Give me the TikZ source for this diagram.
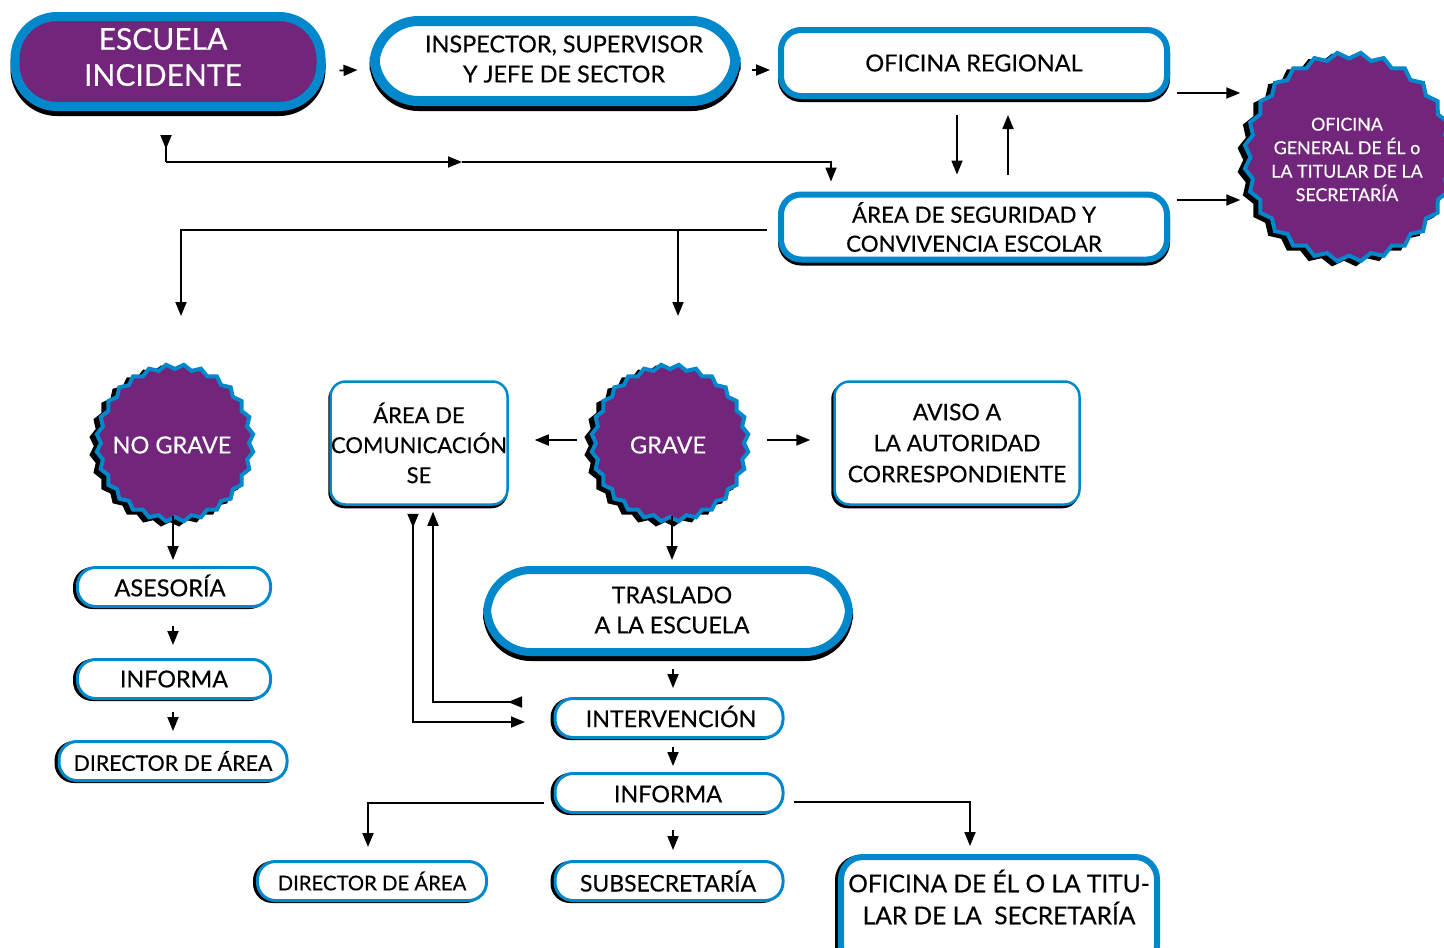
\documentclass[tikz,border=0pt]{standalone}
\usepackage{fontspec}
\usepackage{xcolor}
\usepackage{tikz}
\usetikzlibrary{arrows.meta,shapes.geometric,shadows}
\setmainfont{Lato}[FakeBold=0.4]
\definecolor{morado}{HTML}{72267B}
\definecolor{azul}{HTML}{0088CC}
\newcommand{\fs}[2]{\fontsize{#1}{#2}\selectfont}
\tikzset{
    caja/.style n args={6}{draw=azul, fill=white, line width=#1, rounded corners=#2, align=center,
        minimum width=#3, minimum height=#4, inner sep=0pt,
        general shadow={draw=black, fill=black, line width=#1, shadow xshift=#5, shadow yshift=#6}},
    sello/.style={star, star points=28, star point ratio=.94, draw=azul, fill=morado, text=white,
        line width=4pt, align=center, minimum size=#1, inner sep=0pt,
        general shadow={draw=black, fill=black, line width=4pt, shadow xshift=-5pt, shadow yshift=-3pt}},
    rotulo/.style={align=center, inner sep=0pt},
    flecha/.style={-{Triangle[length=14pt,width=11pt]}, line width=1.8pt, black},
    doble/.style={{Triangle[length=14pt,width=11pt,reversed]}-{Triangle[length=14pt,width=11pt]}, line width=1.8pt, black},
    linea/.style={{Triangle[length=14pt,width=11pt,reversed]}-, line width=1.8pt, black}
}
\begin{document}
\begin{tikzpicture}[x=1pt,y=-1pt]
        \useasboundingbox (0,0) rectangle (1444,948);
        \clip (0,0) rectangle (1444,948);
        % fila superior
        \node[caja={9pt}{42pt}{306pt}{90pt}{0pt}{-5pt}, fill=morado] (escuela) at (168,61.5) {};
        \node[rotulo, text=white, font=\fs{30}{36}] (escuelatxt) at (163,57) {ESCUELA\\INCIDENTE};
        \node[caja={10pt}{44pt}{361pt}{80pt}{0pt}{-5pt}] (inspector) at (555,61) {};
        \node[rotulo, font=\fs{23.4}{30}] (inspectortxt) at (564,59) {INSPECTOR, SUPERVISOR\\Y JEFE DE SECTOR};
        \node[caja={6pt}{20pt}{386pt}{66pt}{0pt}{-3pt}, font=\fs{23.5}{30}] (regional) at (974,63) {OFICINA REGIONAL};
        \node[caja={6pt}{20pt}{386pt}{65pt}{0pt}{-3pt}, font=\fs{22.3}{29}] (seguridad) at (974,227) {ÁREA DE SEGURIDAD Y\\CONVIVENCIA ESCOLAR};
        \node[sello={197pt}] (general) at (1349,157) {};
        \node[rotulo, text=white, font=\fs{17.8}{23.5}] (generaltxt) at (1347,159.5) {OFICINA\\GENERAL DE ÉL o\\LA TITULAR DE LA\\SECRETARÍA};
        % casos
        \node[sello={148pt}] (nograve) at (175,443) {};
        \node[rotulo, text=white, font=\fs{23.5}{30}] (nogravetxt) at (172,445) {NO GRAVE};
        \node[sello={148pt}] (grave) at (670,443) {};
        \node[rotulo, text=white, font=\fs{23.5}{30}] (gravetxt) at (668,445) {GRAVE};
        \node[caja={2.5pt}{15pt}{177pt}{123pt}{-1pt}{-2.5pt}, font=\fs{22}{30}] (comunicacion) at (419,443) {ÁREA DE\\COMUNICACIÓN\\SE};
        \node[caja={2.5pt}{15pt}{245pt}{123pt}{-2pt}{-2.5pt}, font=\fs{22.9}{31}] (aviso) at (957,443) {AVISO A\\LA AUTORIDAD\\CORRESPONDIENTE};
        \node[caja={8pt}{44pt}{362pt}{82pt}{0pt}{-5pt}] (traslado) at (668,611) {};
        \node[rotulo, font=\fs{23.2}{30}] (trasladotxt) at (672,610) {TRASLADO\\A LA ESCUELA};
        % columna izquierda
        \node[caja={3pt}{18pt}{193pt}{39pt}{-3pt}{-1pt}] (asesoria) at (174,587) {};
        \node[rotulo, font=\fs{23.5}{30}] (asesoriatxt) at (170,585.5) {ASESORÍA};
        \node[caja={3pt}{18pt}{193pt}{39pt}{-3pt}{-1pt}, font=\fs{23.3}{30}] (informaa) at (174,679) {INFORMA};
        \node[caja={3pt}{18pt}{228pt}{39pt}{-3pt}{-1pt}, font=\fs{21.4}{30}] (directora) at (173,761) {DIRECTOR DE ÁREA};
        % columna central
        \node[caja={3pt}{18pt}{228pt}{39pt}{-3pt}{-1pt}] (intervencion) at (669,718) {};
        \node[rotulo, font=\fs{23.2}{30}] (intervenciontxt) at (671,716.5) {INTERVENCIÓN};
        \node[caja={3pt}{18pt}{228pt}{39pt}{-3pt}{-1pt}] (informab) at (669,793) {};
        \node[rotulo, font=\fs{23.3}{30}] (informabtxt) at (668,794) {INFORMA};
        \node[caja={3pt}{18pt}{228pt}{39pt}{-3pt}{-1pt}] (subsecretaria) at (669,881) {};
        \node[rotulo, font=\fs{22.9}{30}] (subsecretariatxt) at (668,881) {SUBSECRETARÍA};
        \node[caja={3pt}{18pt}{229pt}{39pt}{-3pt}{-1pt}, font=\fs{20.3}{30}] (directorb) at (372,881) {DIRECTOR DE ÁREA};
        \node[caja={6pt}{22pt}{316pt}{110pt}{-3pt}{-1pt}, anchor=north] (titular) at (999,854) {};
        \node[rotulo, font=\fs{24.5}{32}] (titulartxt) at (999,897) {OFICINA DE ÉL O LA TITU-\\LAR DE LA\ \ SECRETARÍA};
        % flechas
        \draw[flecha] ([shift={(14,9)}]escuela.east) -- ([shift={(-12,9)}]inspector.west);
        \draw[flecha] ([shift={(11,9)}]inspector.east) -- ([shift={(-8,7)}]regional.west);
        \draw[flecha] ([shift={(7,30)}]regional.east) -- ([shift={(-8,-64)}]general.west);
        \draw[flecha] ([shift={(7,-27)}]seguridad.east) -- ([shift={(-8,43)}]general.west);
        \draw[flecha] ([shift={(-17,16)}]regional.south) -- ([shift={(-17,-17)}]seguridad.north);
        \draw[flecha] ([shift={(34,-17)}]seguridad.north) -- ([shift={(34,16)}]regional.south);
        \coordinate (arranque) at (166,162);
        \coordinate (medio) at (462,162);
        \draw[linea] ([shift={(-2,24)}]escuela.south) -- (arranque);
        \draw[flecha] (arranque) -- (medio);
        \draw[flecha] (medio) -| ([shift={(-143,-10)}]seguridad.north);
        \coordinate (baja) at (181,316);
        \coordinate (bajb) at (678,316);
        \coordinate (cruce) at (678,230);
        \draw[flecha] ([shift={(-11,3)}]seguridad.west) -| (baja);
        \draw[flecha] (cruce) -- (bajb);
        \draw[flecha] ([shift={(-17,-3)}]grave.west) -- ([shift={(26,-3)}]comunicacion.east);
        \draw[flecha] ([shift={(21,-3)}]grave.east) -- ([shift={(-23,-3)}]aviso.west);
        \draw[flecha] ([shift={(-2,-3)}]nograve.south) -- ([shift={(-1,-6)}]asesoria.north);
        \draw[flecha] ([shift={(2,-3)}]grave.south) -- ([shift={(4,-6)}]traslado.north);
        \draw[flecha] ([shift={(-1,18)}]asesoria.south) -- ([shift={(-1,-13)}]informaa.north);
        \draw[flecha] ([shift={(-1,12)}]informaa.south) -- ([shift={(0,-9)}]directora.north);
        \draw[flecha] ([shift={(5,13)}]traslado.south) -- ([shift={(4,-9)}]intervencion.north);
        \draw[flecha] ([shift={(4,8)}]intervencion.south) -- ([shift={(4,-6)}]informab.north);
        \draw[flecha] ([shift={(4,16)}]informab.south) -- ([shift={(4,-10)}]subsecretaria.north);
        \coordinate (vuelta) at (522,702);
        \coordinate (ida) at (525,722);
        \draw[doble] ([shift={(-6,8)}]comunicacion.south) |- (ida);
        \draw[doble] (vuelta) -| ([shift={(14,6)}]comunicacion.south);
        \coordinate (tira) at (368,847);
        \coordinate (tirb) at (970,846);
        \draw[flecha] ([shift={(-10,10)}]informab.west) -| (tira);
        \draw[flecha] ([shift={(9,9)}]informab.east) -| (tirb);
\end{tikzpicture}
\end{document}
